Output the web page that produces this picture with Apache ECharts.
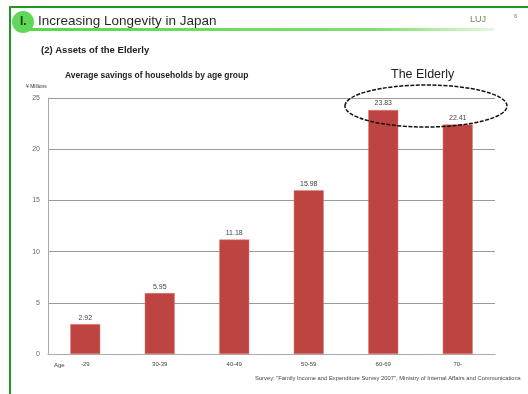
<!DOCTYPE html>
<html>
<head>
<meta charset="utf-8">
<script src="https://cdn.jsdelivr.net/npm/echarts@6/dist/echarts.min.js"></script>
<style>
  html, body { margin: 0; padding: 0; background: #fff; }
  #chart { width: 528px; height: 394px; }
</style>
</head>
<body>
<div id="chart"></div>
<script>
// Average savings of households by age group (¥ millions)
const ageGroups = ['-29', '30-39', '40-49', '50-59', '60-69', '70-'];
const savings = [2.92, 5.95, 11.18, 15.98, 23.83, 22.41];
const yTicks = [0, 5, 10, 15, 20, 25];

const chart = echarts.init(document.getElementById('chart'), null, { renderer: 'canvas' });

const font = 'Liberation Sans, Arial, sans-serif';

chart.setOption({
  animation: false,
  backgroundColor: '#ffffff',
  grid: { left: 48, right: 33, top: 98, bottom: 40 },
  xAxis: {
    type: 'category',
    data: ageGroups,
    axisLine: { lineStyle: { color: '#aaaaaa', width: 1 } },
    axisTick: { show: false },
    axisLabel: { color: '#444', fontSize: 6, fontFamily: font, margin: 7 }
  },
  yAxis: {
    type: 'value',
    min: yTicks[0],
    max: yTicks[yTicks.length - 1],
    interval: 5,
    axisLine: { show: true, lineStyle: { color: '#aaaaaa' } },
    axisTick: { show: false },
    splitLine: { lineStyle: { color: '#9a9a9a', width: 1 } },
    axisLabel: { color: '#666', fontSize: 7, fontFamily: font, margin: 8 }
  },
  series: [{
    type: 'bar',
    data: savings,
    barWidth: 30,
    itemStyle: { color: '#bd4440', borderColor: '#e07a74', borderWidth: 0.5 },
    label: {
      show: true,
      position: 'top',
      distance: 3,
      color: '#444',
      fontSize: 7,
      fontFamily: font,
      formatter: p => p.value.toFixed(2)
    },
    z: 3
  }],
  graphic: [
    // page frame
    { type: 'rect', shape: { x: 10, y: 7, width: 530, height: 400 }, style: { fill: 'none', stroke: '#1f9a1f', lineWidth: 2 }, silent: true },
    // header underline
    { type: 'rect', shape: { x: 26, y: 28, width: 468, height: 3 },
      style: { fill: new echarts.graphic.LinearGradient(0, 0, 1, 0, [
        { offset: 0, color: '#55d84a' }, { offset: 0.75, color: '#7ee06e' }, { offset: 1, color: '#e4f7df' }
      ]) }, silent: true },
    // section badge
    { type: 'circle', shape: { cx: 23, cy: 22, r: 11 }, style: { fill: '#5fd85a' }, silent: true },
    { type: 'text', x: 20, y: 16, style: { text: 'I.', fill: '#1d3d1a', font: 'bold 12px ' + font } },
    { type: 'text', x: 38, y: 14, style: { text: 'Increasing Longevity in Japan', fill: '#1e2a1e', font: '13.5px ' + font } },
    { type: 'text', x: 470, y: 15, style: { text: 'LUJ', fill: '#6a8a5a', font: '9px ' + font } },
    { type: 'text', x: 514, y: 13, style: { text: '6', fill: '#777', font: '6px ' + font } },
    { type: 'text', x: 41, y: 45, style: { text: '(2) Assets of the Elderly', fill: '#222', font: 'bold 9.5px ' + font } },
    { type: 'text', x: 65, y: 71, style: { text: 'Average savings of households by age group', fill: '#222', font: 'bold 8.5px ' + font } },
    { type: 'text', x: 26, y: 84, style: { text: '¥ Millions', fill: '#333', font: '5px ' + font } },
    { type: 'text', x: 54, y: 362, style: { text: 'Age', fill: '#444', font: '6px ' + font } },
    { type: 'text', x: 391, y: 68, style: { text: 'The Elderly', fill: '#222', font: '12.5px ' + font } },
    { type: 'ellipse', shape: { cx: 426, cy: 106, rx: 81, ry: 21 }, style: { fill: 'none', stroke: '#111', lineWidth: 1.5, lineDash: [4, 1.5] }, z: 10, silent: true },
    { type: 'text', x: 255, y: 375, style: { text: 'Survey: "Family Income and Expenditure Survey 2007", Ministry of Internal Affairs and Communications', fill: '#444', font: '5.8px ' + font } }
  ]
});
</script>
</body>
</html>
